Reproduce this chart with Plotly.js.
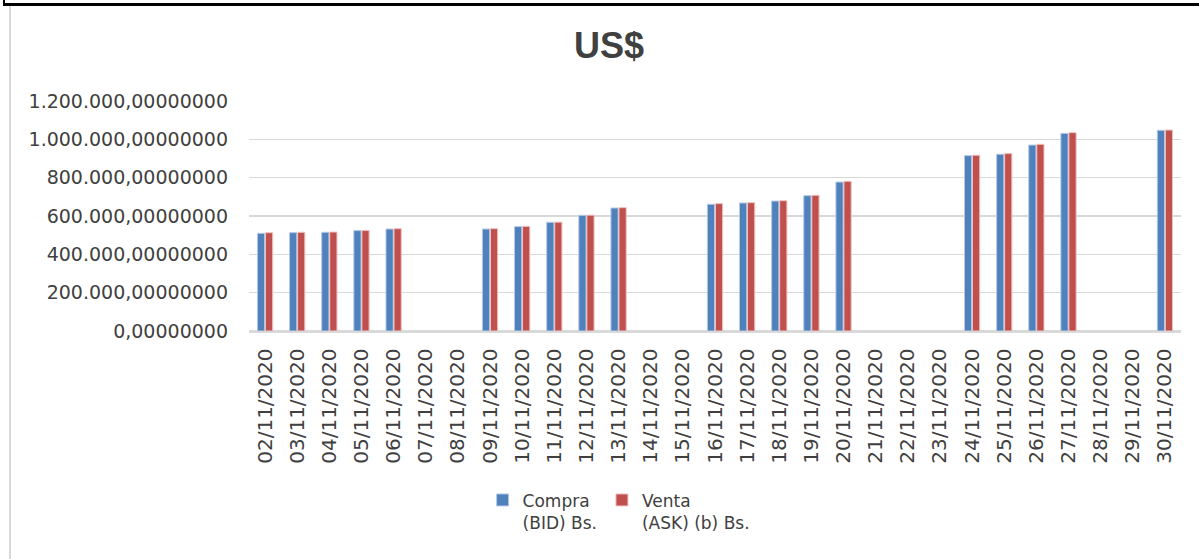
<!DOCTYPE html>
<html>
<head>
<meta charset="utf-8">
<script src="https://cdn.plot.ly/plotly-3.0.1.min.js"></script>
<style>
html,body{margin:0;padding:0;background:#fff;}
#wrap{position:relative;width:1199px;height:559px;overflow:hidden;}
#chart{position:absolute;left:0;top:0;width:1199px;height:559px;}
.frame-top{position:absolute;left:3px;top:3px;width:1196px;height:3px;background:#000;}
.frame-tl{position:absolute;left:3px;top:0;width:2px;height:6px;background:#000;}
.frame-left{position:absolute;left:9px;top:6px;width:2px;height:553px;background:#d9d9d9;}
</style>
</head>
<body>
<div id="wrap">
<div id="chart"></div>
<div class="frame-top"></div>
<div class="frame-tl"></div>
<div class="frame-left"></div>
</div>
<script>
// Categories (dates)
const dates = [
  "02/11/2020","03/11/2020","04/11/2020","05/11/2020","06/11/2020","07/11/2020","08/11/2020",
  "09/11/2020","10/11/2020","11/11/2020","12/11/2020","13/11/2020","14/11/2020","15/11/2020",
  "16/11/2020","17/11/2020","18/11/2020","19/11/2020","20/11/2020","21/11/2020","22/11/2020",
  "23/11/2020","24/11/2020","25/11/2020","26/11/2020","27/11/2020","28/11/2020","29/11/2020",
  "30/11/2020"
];
// Compra (BID) Bs.
const compra = [
  509700, 513000, 514900, 523700, 532000, null, null,
  532000, 544600, 567000, 603600, 641700, null, null,
  661000, 667800, 678000, 706000, 777000, null, null,
  null, 915000, 922000, 970000, 1031000, null, null,
  1047000
];
// Venta (ASK) (b) Bs.
const venta = [
  513000, 515000, 516500, 525000, 534000, null, null,
  534000, 546000, 568000, 604500, 643500, null, null,
  664500, 669600, 680000, 708000, 781000, null, null,
  null, 917000, 925500, 974000, 1035000, null, null,
  1048600
];
// Y axis ticks
const yTickVals = [0, 200000, 400000, 600000, 800000, 1000000, 1200000];
const yTickText = ["0,00000000","200.000,00000000","400.000,00000000","600.000,00000000",
                   "800.000,00000000","1.000.000,00000000","1.200.000,00000000"];
const seriesNames = ["Compra<br>(BID) Bs.", "Venta<br>(ASK) (b) Bs."];
const chartTitle = "US$";

const traces = [
  {type:'bar', x:dates, y:compra, name:seriesNames[0],
   marker:{color:'#4f81bd', line:{color:'#b4c8e3', width:1}}},
  {type:'bar', x:dates, y:venta, name:seriesNames[1],
   marker:{color:'#c0504d', line:{color:'#edc4c3', width:1}}}
];

const layout = {
  width:1199, height:559,
  margin:{l:249, r:18, t:101, b:228, pad:0},
  paper_bgcolor:'#ffffff', plot_bgcolor:'#ffffff',
  font:{family:'DejaVu Sans, sans-serif', color:'#404040'},
  title:{text:chartTitle, x:0.508, xref:'container', xanchor:'center',
         y:0.918, yref:'container', yanchor:'middle',
         font:{family:'Liberation Sans, Arial, sans-serif', size:36, weight:'bold', color:'#404040'}},
  barmode:'group', bargap:0.5, bargroupgap:0.1,
  showlegend:true,
  legend:{orientation:'h', xref:'container', yref:'container', x:0.4025, y:0.137,
          xanchor:'left', yanchor:'top', valign:'top',
          font:{size:17, color:'#404040'}, traceorder:'normal', itemclick:false},
  xaxis:{type:'category', tickangle:-90, tickfont:{size:20, color:'#404040'},
         showgrid:false, showline:true, linecolor:'#d9d9d9', linewidth:1.5,
         ticks:'', ticklabelstandoff:8, fixedrange:true},
  yaxis:{range:[0,1200000], tickvals:yTickVals, ticktext:yTickText,
         tickfont:{size:19, color:'#404040'},
         showgrid:true, gridcolor:'#d9d9d9', gridwidth:1.5,
         zeroline:true, zerolinecolor:'#d9d9d9', zerolinewidth:1.5,
         showline:false, ticks:'', ticklabelstandoff:20, fixedrange:true}
};

Plotly.newPlot('chart', traces, layout, {displayModeBar:false, staticPlot:true});
</script>
</body>
</html>
